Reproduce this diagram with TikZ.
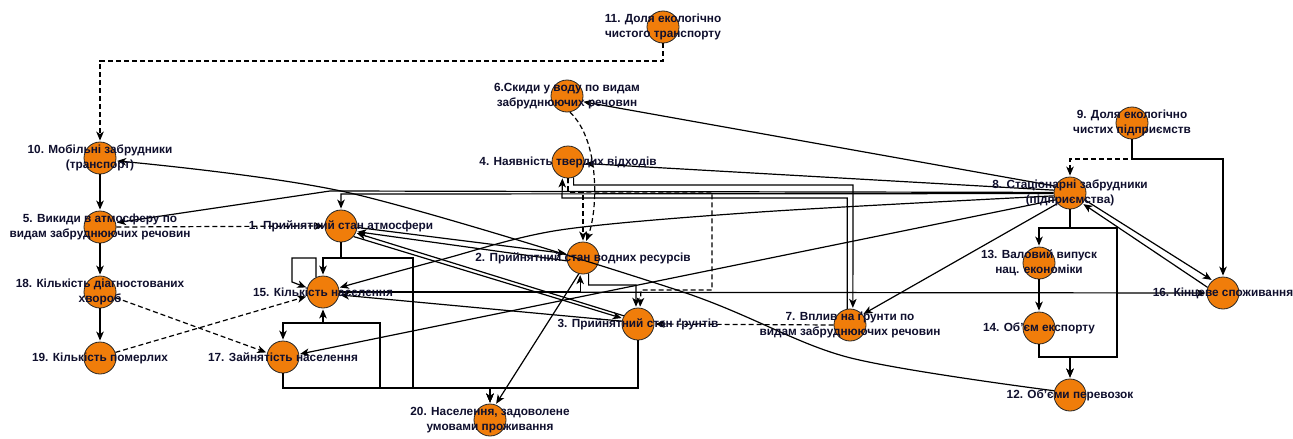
\documentclass[tikz,border=0pt]{standalone}
\usepackage{fontspec}
\setmainfont{Liberation Sans}
\usepackage{tikz}
\usetikzlibrary{arrows.meta}
\definecolor{nodeorange}{RGB}{240,125,10}
\definecolor{labelink}{RGB}{15,15,45}

\begin{document}
\begin{tikzpicture}[x=1pt,y=-1pt,->,>={Stealth[length=9pt,width=7.5pt,inset=2.5pt]},shorten >=1pt,line width=1.2pt,
  main node/.style={circle,fill=nodeorange,draw=black!85,line width=0.8pt,minimum size=32pt,inner sep=0pt},
  label node/.style={align=center,text=labelink,font=\bfseries\fontsize{11.8}{15}\selectfont,inner sep=0pt},
  info link/.style={dash pattern=on 5pt off 3pt}]
  \useasboundingbox (0,0) rectangle (1293,439);

  \node[main node] (n1) at (341,226) {};
  \node[main node] (n2) at (583,258) {};
  \node[main node] (n3) at (638,324) {};
  \node[main node] (n4) at (568,162) {};
  \node[main node] (n5) at (100,227) {};
  \node[main node] (n6) at (567,96) {};
  \node[main node] (n7) at (850,325) {};
  \node[main node] (n8) at (1070,193) {};
  \node[main node] (n9) at (1132,123) {};
  \node[main node] (n10) at (100,158) {};
  \node[main node] (n11) at (663,27) {};
  \node[main node] (n12) at (1070,395) {};
  \node[main node] (n13) at (1039,263) {};
  \node[main node] (n14) at (1039,328) {};
  \node[main node] (n15) at (323,292) {};
  \node[main node] (n16) at (1223,293) {};
  \node[main node] (n17) at (283,357) {};
  \node[main node] (n18) at (100,292) {};
  \node[main node] (n19) at (100,358) {};
  \node[main node] (n20) at (490,420) {};

  % dashed links
  \draw[info link] (n11.south) -- (663,61) -- (100,61) -- (n10.north);
  \draw[info link] (n5.east) -- (n1.west);
  \draw[info link] (n18.-20) -- (n17.165);
  \draw[info link] (n19.20) -- (n15.195);
  \draw[info link] (n6.-80) .. controls (600,140) and (598,210) .. (n2.80);
  \draw[info link] (n4.south) |- (583,192) -- (n2.north);
  \draw[info link] (n4.south) |- (712,192) |- (641,290) -- (n3.83);
  \draw[info link] (n7.west) -- (n3.east);
  \draw[info link] (n9.south) |- (1070,159) -- (n8.north);

  % left column
  \path (n10) edge (n5)
        (n5) edge (n18)
        (n18) edge (n19);

  % stationary pollutants
  \draw (n8.178) -- (330,191) -- (n5.15);
  \draw (n8.182) -- (341,194) -- (n1.north);
  \path (n8.155) edge (n6.-20)
        (n8.170) edge (n4.-5)
        (n8.205) edge (n17.10)
        (n8.220) edge (n7.40)
        (n8.-25) edge (n16.130)
        (n16.160) edge (n8.-40);
  \draw plot[smooth] coordinates {(n8.190) (760,212) (560,230) (440,260) (n15.15)};
  \draw (n8.south) |- (1039,228) -- (n13.north);
  \draw (n8.south) |- (1117,228) |- (1070,357) -- (n12.north);
  \path (n13) edge (n14);
  \draw (n14.south) |- (1070,357) -- (n12.north);
  \draw (n9.south) |- (1223,159) -- (n16.north);
  \draw plot[smooth] coordinates {(n12.165) (847,357) (680,291) (350,193) (n10.-10)};

  % waste and soil
  \draw (n4.-70) |- (853,185) -- (n7.80);
  \draw (n7.100) |- (562,198) -- (n4.-110);

  % states
  \path (n1.-5) edge (n2.165)
        (n2.190) edge (n1.-20)
        (n1.-40) edge (n3.160)
        (n3.150) edge (n1.-25)
        (n2.-105) edge (n20.70)
        (n3.170) edge (n15.-10)
        (n15.east) edge (n16.west);
  \draw (n15.east) -| (n2.-100);
  \draw (n2.-70) |- (636,285) -- (n3.97);

  % population block
  \draw (n1.south) |- (323,258) -- (n15.north);
  \draw (n1.south) |- (413,258) |- (490,388) -- (n20.north);
  \draw (n15.115) |- (292,258) -- (292,282) -- (n15.165);
  \draw (n17.south) |- (380,388) |- (323,323) -- (n15.south);
  \draw (n17.south) |- (380,388) |- (283,323) -- (n17.north);
  \draw (n17.south) |- (490,388) -- (n20.north);
  \draw (n3.south) |- (490,388) -- (n20.north);

  % labels
  \node[label node] (t1) at (n1) {1. Прийнятний стан атмосфери};
  \node[label node] (t2) at (n2) {2. Прийнятний стан водних ресурсів};
  \node[label node] (t3) at (n3) {3. Прийнятний стан ґрунтів};
  \node[label node] (t4) at (n4) {4. Наявність твердих відходів};
  \node[label node] (t5) at (n5) {5. Викиди в атмосферу по\\видам забруднюючих речовин};
  \node[label node] (t6) at (n6) {6.Скиди у воду по видам\\забруднюючих речовин};
  \node[label node] (t7) at (n7) {7. Вплив на ґрунти по\\видам забруднюючих речовин};
  \node[label node] (t8) at (n8) {8. Стаціонарні забрудники\\(підприємства)};
  \node[label node] (t9) at (n9) {9. Доля екологічно\\чистих підприємств};
  \node[label node] (t10) at (n10) {10. Мобільні забрудники\\(транспорт)};
  \node[label node] (t11) at (n11) {11. Доля екологічно\\чистого транспорту};
  \node[label node] (t12) at (n12) {12. Об’єми перевозок};
  \node[label node] (t13) at (n13) {13. Валовий випуск\\нац. економіки};
  \node[label node] (t14) at (n14) {14. Об’єм експорту};
  \node[label node] (t15) at (n15) {15. Кількість населення};
  \node[label node] (t16) at (n16) {16. Кінцеве споживання};
  \node[label node] (t17) at (n17) {17. Зайнятість населення};
  \node[label node] (t18) at (n18) {18. Кількість діагностованих\\хвороб};
  \node[label node] (t19) at (n19) {19. Кількість померлих};
  \node[label node] (t20) at (n20) {20. Населення, задоволене\\умовами проживання};
\end{tikzpicture}
\end{document}
